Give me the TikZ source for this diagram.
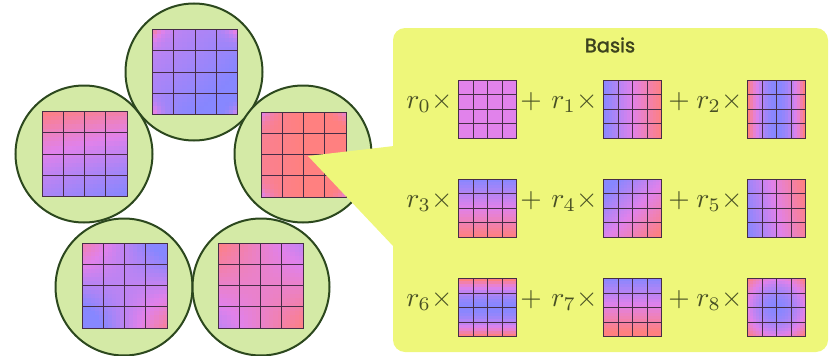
\documentclass[tikz,border=0pt]{standalone}
\usepackage{fontspec}
\newfontfamily\basisfont{Poppins}[FakeBold=1.6]
\definecolor{circfill}{RGB}{212,234,166}
\definecolor{circline}{RGB}{44,72,30}
\definecolor{callout}{RGB}{238,247,122}
\definecolor{txt}{RGB}{72,80,36}
\definecolor{titc}{RGB}{60,66,30}
\definecolor{gridc}{RGB}{70,45,70}
\def\PX{(\xx)}
\def\PY{(\yy)}
% #1 cx, #2 cy, #3 size, #4 line width, #5 expression in \PX,\PY (-1..1, y down) giving t (0 blue, 1 red)
\newcommand{\gradsq}[5]{%
  \foreach \i in {0,...,19}{
    \foreach \j in {0,...,19}{
      \pgfmathsetmacro\xx{(\i+0.5)/10-1}
      \pgfmathsetmacro\yy{(\j+0.5)/10-1}
      \pgfmathsetmacro\tv{max(0,min(1,#5))}
      \pgfmathtruncatemacro\cR{ifthenelse(\tv<0.5,135+180*\tv,225+60*(\tv-0.5))}
      \pgfmathtruncatemacro\cG{ifthenelse(\tv<0.5,135-10*\tv,130-4*(\tv-0.5))}
      \pgfmathtruncatemacro\cB{ifthenelse(\tv<0.5,255-40*\tv,235-214*(\tv-0.5))}
      \definecolor{cellc}{RGB}{\cR,\cG,\cB}
      \fill[cellc] ({#1-#3/2+\i*#3/20},{#2-#3/2+\j*#3/20}) rectangle ++({#3/20+0.4},{#3/20+0.4});
    }}
  \foreach \k in {1,2,3}{
    \draw[gridc, line width=#4] ({#1-#3/2+\k*#3/4},{#2-#3/2}) -- ++(0,#3);
    \draw[gridc, line width=#4] ({#1-#3/2},{#2-#3/2+\k*#3/4}) -- ++(#3,0);
  }
  \draw[gridc, line width=#4] ({#1-#3/2},{#2-#3/2}) rectangle ++(#3,#3);
}
\tikzset{
  circ/.style={circle, draw=circline, fill=circfill, line width=2pt, minimum size=137pt, inner sep=0pt},
  mathlbl/.style={text=txt, scale=2.75, transform shape, inner sep=0pt, anchor=base east},
  plus/.style={text=txt, scale=2.75, transform shape, inner sep=0pt, anchor=base},
  title/.style={text=titc, font=\basisfont\fontsize{19.5}{22}\selectfont, inner sep=0pt}
}
\begin{document}
\begin{tikzpicture}[x=1pt,y=-1pt]
\useasboundingbox (0,0) rectangle (836,356);
% circles
\node[circ] (c1) at (194,72) {};
\node[circ] (c2) at (84,154) {};
\node[circ] (c3) at (303,154) {};
\node[circ] (c4) at (124,287) {};
\node[circ] (c5) at (261,287) {};
% squares in circles
\gradsq{195}{72}{85}{0.9pt}{0.12+0.6*\PX*\PX*\PY*\PY*\PX*\PX*\PY*\PY-0.12*\PX-0.12*\PY}
\gradsq{84.5}{154}{85}{0.9pt}{0.4-0.4*\PY-0.1*\PX+0.1*\PY*\PY}
\gradsq{303.5}{154.5}{85}{0.9pt}{1-0.55*\PX*\PX*\PY*\PY*\PX*\PX*\PY*\PY+0.08*\PX}
\gradsq{124.5}{285.5}{85}{0.9pt}{0.3+0.55*\PX*\PY+0.05*\PX}
\gradsq{260.5}{285.5}{85}{0.9pt}{0.65+0.35*\PX*\PY}
% callout
\fill[callout] (308,156) -- (394,146) -- (394,247) -- cycle;
\fill[callout, rounded corners=12pt] (393,28) rectangle (828,352);
\node[title] (basis) at (610,45) {Basis};
% basis squares
\gradsq{487.5}{109}{58}{0.7pt}{0.5}
\gradsq{632.5}{109}{58}{0.7pt}{0.5+0.5*\PX}
\gradsq{776.5}{109}{58}{0.7pt}{\PX*\PX*1.1}
\gradsq{487.5}{208}{58}{0.7pt}{0.5+0.5*\PY}
\gradsq{632.5}{208}{58}{0.7pt}{0.45+0.3*(\PX+\PY)}
\gradsq{776.5}{208}{58}{0.7pt}{0.5+0.45*\PX-0.08*\PY}
\gradsq{487.5}{307.5}{58}{0.7pt}{1.1*\PY*\PY}
\gradsq{632.5}{307.5}{58}{0.7pt}{0.55+0.55*\PY}
\gradsq{776.5}{307.5}{58}{0.7pt}{0.55*(\PX*\PX+\PY*\PY)}
% labels
\node[mathlbl] (l0) at (453,108) {$r_0\times$};
\node[plus] (p1) at (531,108) {$+$};
\node[mathlbl] (l1) at (598,108) {$r_1\times$};
\node[plus] (p2) at (679,108) {$+$};
\node[mathlbl] (l2) at (743,108) {$r_2\times$};
\node[mathlbl] (l3) at (453,207) {$r_3\times$};
\node[plus] (p3) at (531,207) {$+$};
\node[mathlbl] (l4) at (598,207) {$r_4\times$};
\node[plus] (p4) at (679,207) {$+$};
\node[mathlbl] (l5) at (743,207) {$r_5\times$};
\node[mathlbl] (l6) at (453,306.5) {$r_6\times$};
\node[plus] (p5) at (531,306.5) {$+$};
\node[mathlbl] (l7) at (598,306.5) {$r_7\times$};
\node[plus] (p6) at (679,306.5) {$+$};
\node[mathlbl] (l8) at (743,306.5) {$r_8\times$};
\end{tikzpicture}
\end{document}
